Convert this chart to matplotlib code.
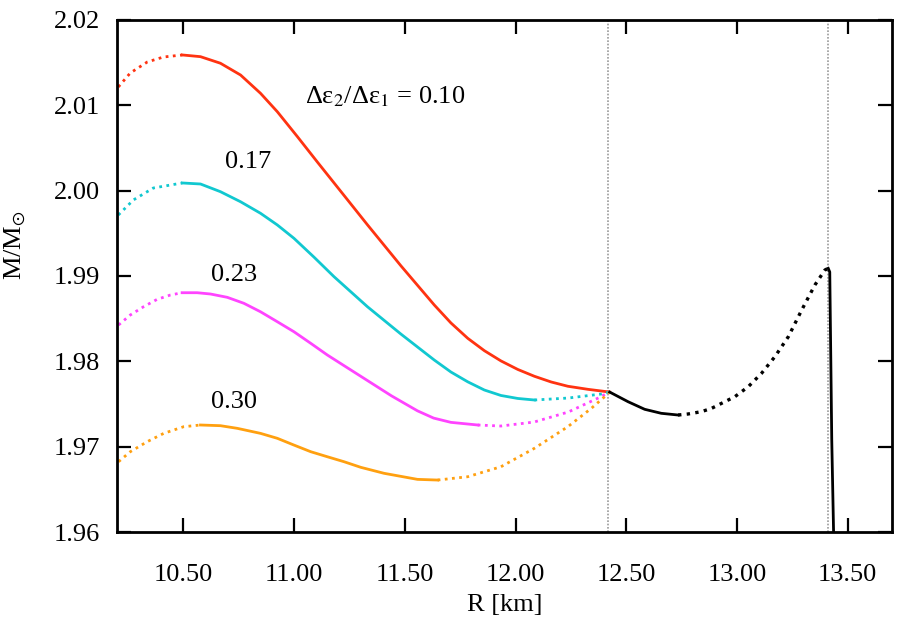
import matplotlib
matplotlib.use("Agg")
import matplotlib.pyplot as plt

plt.rcParams['font.family'] = ['Liberation Serif', 'DejaVu Serif']
plt.rcParams['mathtext.fontset'] = 'stix'

# R [km], M/Msun; each curve = dotted (unstable) + solid part
red_dot_r = [10.206, 10.26, 10.337, 10.41, 10.495]
red_dot_m = [2.01215, 2.01379, 2.01508, 2.01566, 2.0159]
red_r = [10.495, 10.577, 10.667, 10.758, 10.848, 10.924, 11.014, 11.105, 11.225,
         11.331, 11.482, 11.633, 11.708, 11.784, 11.859, 11.934, 12.01, 12.085,
         12.161, 12.236, 12.327, 12.425]
red_m = [2.0159, 2.0157, 2.01493, 2.01355, 2.01141, 2.00925, 2.00635, 2.00335,
         1.99945, 1.99600, 1.99120, 1.98660, 1.98450, 1.98270, 1.98125, 1.98005,
         1.97905, 1.97825, 1.97758, 1.97708, 1.97672, 1.9764]

cyan_dot_r = [10.206, 10.274, 10.364, 10.495]
cyan_dot_m = [1.99715, 1.99891, 2.00031, 2.0009]
cyan_r = [10.495, 10.577, 10.667, 10.758, 10.848, 10.924, 10.999, 11.09, 11.18,
          11.331, 11.482, 11.633, 11.708, 11.784, 11.859, 11.934, 12.01, 12.085]
cyan_m = [2.0009, 2.00078, 1.99988, 1.9987, 1.99735, 1.99598, 1.99442, 1.9922,
          1.98992, 1.9864, 1.98320, 1.98015, 1.97875, 1.97760, 1.97664, 1.97600,
          1.97565, 1.97547]
cyan_dot2_r = [12.085, 12.238, 12.387, 12.425]
cyan_dot2_m = [1.97547, 1.9757, 1.97617, 1.9764]

mag_dot_r = [10.207, 10.26, 10.32, 10.381, 10.441, 10.494]
mag_dot_m = [1.98426, 1.98543, 1.9864, 1.98726, 1.98777, 1.98804]
mag_r = [10.494, 10.562, 10.622, 10.698, 10.773, 10.848, 10.924, 10.999, 11.075,
         11.15, 11.225, 11.331, 11.44, 11.557, 11.63, 11.708, 11.829]
mag_m = [1.98804, 1.98804, 1.98789, 1.9875, 1.9868, 1.98581, 1.98464, 1.98347,
         1.98211, 1.98074, 1.97950, 1.97775, 1.97595, 1.97420, 1.97335, 1.97285,
         1.97254]
mag_dot2_r = [11.829, 11.934, 12.084, 12.238, 12.373, 12.425]
mag_dot2_m = [1.97254, 1.97242, 1.97289, 1.97406, 1.9757, 1.9764]

orng_dot_r = [10.207, 10.26, 10.336, 10.411, 10.501, 10.577]
orng_dot_m = [1.96824, 1.96941, 1.97058, 1.97156, 1.97234, 1.97254]
orng_r = [10.577, 10.667, 10.743, 10.848, 10.924, 10.999, 11.075, 11.15, 11.225,
          11.301, 11.406, 11.557, 11.648]
orng_m = [1.97254, 1.97246, 1.97215, 1.97156, 1.97098, 1.97019, 1.96941, 1.96882,
          1.96824, 1.96758, 1.96688, 1.96617, 1.96609]
orng_dot2_r = [11.648, 11.784, 11.934, 12.085, 12.236, 12.342, 12.402, 12.425]
orng_dot2_m = [1.96609, 1.96648, 1.96765, 1.96981, 1.97234, 1.97449, 1.97585, 1.9764]

blk_r = [12.425, 12.508, 12.583, 12.658, 12.734]
blk_m = [1.9764, 1.97527, 1.97438, 1.97391, 1.97371]
blk_dot_r = [12.734, 12.779, 12.839, 12.885, 12.945, 12.99, 13.051, 13.111,
             13.171, 13.232, 13.292, 13.352, 13.397, 13.412]
blk_dot_m = [1.97371, 1.97383, 1.9741, 1.97449, 1.97527, 1.97585, 1.97703,
             1.9786, 1.98054, 1.98289, 1.986, 1.98895, 1.9907, 1.9909]
blk2_r = [13.412, 13.419, 13.428, 13.437]
blk2_m = [1.9909, 1.99047, 1.97078, 1.959]

vlines_r = [12.417, 13.409]

ratio_labels = ['0.17', '0.23', '0.30']
ratio_label_pos = [(10.79, 2.0034), (10.73, 1.9901), (10.73, 1.9752)]

C_RED = '#ff3311'
C_CYAN = '#11c8d0'
C_MAG = '#ff44ff'
C_ORNG = '#ffa010'

DOT = (0, (1.0, 1.6))
FS = 19

fig = plt.figure(figsize=(8.98, 6.24), dpi=100)
ax = fig.add_axes([0.1303, 0.1474, 0.863, 0.8206])

for x in vlines_r:
    ax.axvline(x, color='#999999', lw=1.2, ls=(0, (1, 1)), zorder=1)

lw = 2.0
ax.plot(red_dot_r, red_dot_m, color=C_RED, lw=lw, ls=DOT)
ax.plot(red_r, red_m, color=C_RED, lw=lw)
ax.plot(cyan_dot_r, cyan_dot_m, color=C_CYAN, lw=lw, ls=DOT)
ax.plot(cyan_r, cyan_m, color=C_CYAN, lw=lw)
ax.plot(cyan_dot2_r, cyan_dot2_m, color=C_CYAN, lw=lw, ls=DOT)
ax.plot(mag_dot_r, mag_dot_m, color=C_MAG, lw=lw, ls=DOT)
ax.plot(mag_r, mag_m, color=C_MAG, lw=lw)
ax.plot(mag_dot2_r, mag_dot2_m, color=C_MAG, lw=lw, ls=DOT)
ax.plot(orng_dot_r, orng_dot_m, color=C_ORNG, lw=lw, ls=DOT)
ax.plot(orng_r, orng_m, color=C_ORNG, lw=lw)
ax.plot(orng_dot2_r, orng_dot2_m, color=C_ORNG, lw=lw, ls=DOT)
ax.plot(blk_r, blk_m, color='black', lw=lw)
ax.plot(blk_dot_r, blk_dot_m, color='black', lw=2.4, ls=DOT)
ax.plot(blk2_r, blk2_m, color='black', lw=lw)

ax.text(11.05, 2.0110, 'Δε$_2$/Δε$_1$ = 0.10', fontsize=FS, va='center', ha='left')
for lab, (x, y) in zip(ratio_labels, ratio_label_pos):
    ax.text(x, y, lab, fontsize=FS, va='center', ha='center')

ax.set_xlim(10.2, 13.7)
ax.set_ylim(1.96, 2.02)
ax.set_xticks([10.5, 11.0, 11.5, 12.0, 12.5, 13.0, 13.5])
ax.set_xticklabels(['%.2f' % v for v in ax.get_xticks()])
ax.set_yticks([1.96, 1.97, 1.98, 1.99, 2.00, 2.01, 2.02])
ax.set_yticklabels(['%.2f' % v for v in ax.get_yticks()])
ax.tick_params(direction='in', length=10, width=1.6, top=True, right=True,
               labelsize=FS)
ax.tick_params(axis='x', pad=23)
ax.tick_params(axis='y', pad=12)
for s in ax.spines.values():
    s.set_linewidth(2.0)

ax.set_xlabel('R [km]', fontsize=FS, labelpad=6)
ax.set_ylabel('M/M$_{\\odot}$', fontsize=FS)
ax.yaxis.set_label_coords(-0.115, 0.56)

fig.savefig('out.png', dpi=100)
